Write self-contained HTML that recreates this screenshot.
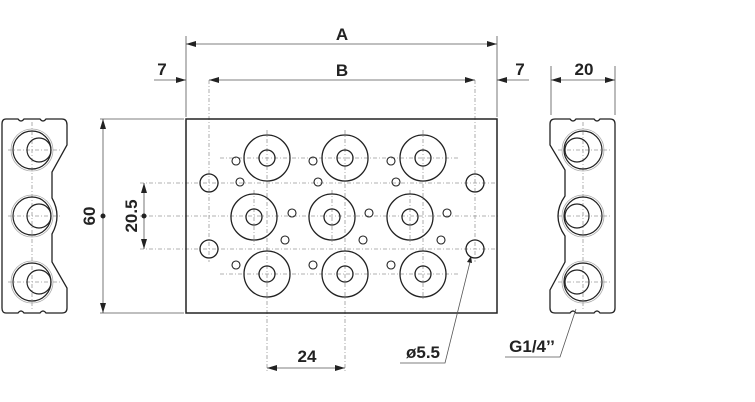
<!DOCTYPE html>
<html><head><meta charset="utf-8"><style>
html,body{margin:0;padding:0;background:#fff;}
svg{display:block}
text{font-family:"Liberation Sans",Arial,sans-serif;font-weight:bold;fill:#222;}
</style></head><body>
<svg width="755" height="402" viewBox="0 0 755 402" xmlns="http://www.w3.org/2000/svg">
<defs>
<marker id="ar" viewBox="0 0 10 6" refX="10" refY="3" markerWidth="10" markerHeight="6" orient="auto-start-reverse" markerUnits="userSpaceOnUse"><path d="M0,0 L10,3 L0,6 z" fill="#222"/></marker>
</defs>
<g stroke="#999" stroke-width="0.8" stroke-dasharray="4,2,1,2" fill="none">
<!-- main centerlines -->
<line x1="140" y1="183" x2="497" y2="183"/>
<line x1="140" y1="249" x2="497" y2="249"/>
<line x1="140" y1="216" x2="500" y2="216"/>
<line x1="209" y1="80" x2="209" y2="262"/>
<line x1="475" y1="80" x2="475" y2="262"/>
<line x1="267" y1="130" x2="267" y2="372"/>
<line x1="345" y1="130" x2="345" y2="372"/>
<line x1="423" y1="130" x2="423" y2="300"/>
<line x1="254" y1="190" x2="254" y2="245"/>
<line x1="332" y1="190" x2="332" y2="245"/>
<line x1="410" y1="190" x2="410" y2="245"/>
<line x1="220" y1="158" x2="460" y2="158"/>
<line x1="220" y1="274" x2="460" y2="274"/>
<!-- side views -->
<line x1="8" y1="150" x2="62" y2="150"/><line x1="8" y1="216" x2="62" y2="216"/><line x1="8" y1="282" x2="62" y2="282"/>
<line x1="32" y1="122" x2="32" y2="310"/>
<line x1="558" y1="150" x2="610" y2="150"/><line x1="558" y1="216" x2="610" y2="216"/><line x1="558" y1="282" x2="610" y2="282"/>
<line x1="583" y1="122" x2="583" y2="310"/>
</g>
<!-- main plate -->
<rect x="186" y="119" width="311" height="194" fill="none" stroke="#222" stroke-width="1.5"/>
<g fill="none" stroke="#222" stroke-width="1.3">
<circle cx="267" cy="158" r="23"/><circle cx="345" cy="158" r="23"/><circle cx="423" cy="158" r="23"/>
<circle cx="267" cy="158" r="8"/><circle cx="345" cy="158" r="8"/><circle cx="423" cy="158" r="8"/>
<circle cx="254" cy="217" r="23"/><circle cx="332" cy="217" r="23"/><circle cx="410" cy="217" r="23"/>
<circle cx="254" cy="217" r="8"/><circle cx="332" cy="217" r="8"/><circle cx="410" cy="217" r="8"/>
<circle cx="267" cy="274" r="23"/><circle cx="345" cy="274" r="23"/><circle cx="423" cy="274" r="23"/>
<circle cx="267" cy="274" r="8"/><circle cx="345" cy="274" r="8"/><circle cx="423" cy="274" r="8"/>
<circle cx="209" cy="183" r="9"/><circle cx="209" cy="249" r="9"/><circle cx="475" cy="183" r="9"/><circle cx="475" cy="249" r="9"/>
</g>
<g fill="none" stroke="#222" stroke-width="1.1">
<circle cx="236" cy="161" r="4"/><circle cx="313" cy="161" r="4"/><circle cx="391" cy="161" r="4"/>
<circle cx="240" cy="182" r="4"/><circle cx="318" cy="182" r="4"/><circle cx="396" cy="182" r="4"/>
<circle cx="292" cy="213" r="4"/><circle cx="369" cy="213" r="4"/><circle cx="447" cy="213" r="4"/>
<circle cx="285" cy="240" r="4"/><circle cx="363" cy="240" r="4"/><circle cx="441" cy="240" r="4"/>
<circle cx="236" cy="265" r="4"/><circle cx="313" cy="265" r="4"/><circle cx="391" cy="265" r="4"/>
</g>
<!-- left end view -->
<path d="M6,119 L18,119 Q21,123 24,119 L40,119 Q43,123 46,119 L62,119 Q67,119 67,125 L67,145 L52,172 L52,198 Q62,216 52,234 L52,262 L67,288 L67,308 Q67,313 62,313 L46,313 Q43,309 40,313 L24,313 Q21,309 18,313 L6,313 Q2,313 2,308 L2,124 Q2,119 6,119 Z" fill="none" stroke="#222" stroke-width="1.3"/>
<g fill="none">
<circle cx="32" cy="150" r="21" stroke="#aaa" stroke-width="0.8"/><circle cx="32" cy="150" r="19" stroke="#222" stroke-width="1.2"/><circle cx="39" cy="150" r="12" stroke="#222" stroke-width="1.2"/>
<circle cx="32" cy="216" r="21" stroke="#aaa" stroke-width="0.8"/><circle cx="32" cy="216" r="19" stroke="#222" stroke-width="1.2"/><circle cx="39" cy="216" r="12" stroke="#222" stroke-width="1.2"/>
<circle cx="32" cy="282" r="21" stroke="#aaa" stroke-width="0.8"/><circle cx="32" cy="282" r="19" stroke="#222" stroke-width="1.2"/><circle cx="39" cy="282" r="12" stroke="#222" stroke-width="1.2"/>
</g>
<!-- right end view -->
<path d="M555,119 L570,119 Q573,123 576,119 L594,119 Q597,123 600,119 L610,119 Q615,119 615,124 L615,308 Q615,313 610,313 L600,313 Q597,309 594,313 L576,313 Q573,309 570,313 L555,313 Q550,313 550,308 L550,290 L565,262 L565,236 Q551,216 565,196 L565,170 L550,145 L550,124 Q550,119 555,119 Z" fill="none" stroke="#222" stroke-width="1.3"/>
<g fill="none">
<circle cx="583" cy="150" r="21" stroke="#aaa" stroke-width="0.8"/><circle cx="583" cy="150" r="19" stroke="#222" stroke-width="1.2"/><circle cx="577" cy="150" r="12" stroke="#222" stroke-width="1.2"/>
<circle cx="583" cy="216" r="21" stroke="#aaa" stroke-width="0.8"/><circle cx="583" cy="216" r="19" stroke="#222" stroke-width="1.2"/><circle cx="577" cy="216" r="12" stroke="#222" stroke-width="1.2"/>
<circle cx="583" cy="282" r="21" stroke="#aaa" stroke-width="0.8"/><circle cx="583" cy="282" r="19" stroke="#222" stroke-width="1.2"/><circle cx="577" cy="282" r="12" stroke="#222" stroke-width="1.2"/>
</g>
<!-- dimensions -->
<g stroke="#555" stroke-width="0.8" fill="none">
<line x1="186" y1="36" x2="186" y2="117"/><line x1="497" y1="36" x2="497" y2="117"/>
<line x1="186" y1="44" x2="497" y2="44" marker-start="url(#ar)" marker-end="url(#ar)"/>
<line x1="209" y1="80" x2="475" y2="80" marker-start="url(#ar)" marker-end="url(#ar)"/>
<line x1="154" y1="80" x2="186" y2="80" marker-end="url(#ar)"/>
<line x1="529" y1="80" x2="497" y2="80" marker-end="url(#ar)"/>
<line x1="551" y1="66" x2="551" y2="115"/><line x1="615" y1="66" x2="615" y2="115"/>
<line x1="551" y1="80" x2="615" y2="80" marker-start="url(#ar)" marker-end="url(#ar)"/>
<line x1="100" y1="119" x2="184" y2="119"/><line x1="100" y1="313" x2="184" y2="313"/>
<line x1="103" y1="119" x2="103" y2="313" marker-start="url(#ar)" marker-end="url(#ar)"/>
<line x1="144" y1="183" x2="144" y2="249" marker-start="url(#ar)" marker-end="url(#ar)"/>
<line x1="267" y1="368" x2="345" y2="368" marker-start="url(#ar)" marker-end="url(#ar)"/>
<polyline points="400,363 445,363 471,258"/>
<polyline points="505,357 560,357 576,309"/>
</g>
<circle cx="103" cy="216" r="2.5" fill="#222"/><circle cx="144" cy="216" r="2.5" fill="#222"/>
<path d="M467,262 L471,256 L472,263 z" fill="#222"/>
<text x="342" y="40" font-size="17" text-anchor="middle">A</text>
<text x="342" y="76" font-size="17" text-anchor="middle">B</text>
<text x="162" y="75" font-size="17" text-anchor="middle">7</text>
<text x="520" y="75" font-size="17" text-anchor="middle">7</text>
<text x="584" y="75" font-size="17" text-anchor="middle">20</text>
<text x="307" y="362" font-size="17" text-anchor="middle">24</text>
<text x="423" y="358" font-size="17" text-anchor="middle">ø5.5</text>
<text x="532" y="352" font-size="17" text-anchor="middle">G1/4’’</text>
<text transform="translate(95,216) rotate(-90)" font-size="17" text-anchor="middle">60</text>
<text transform="translate(137,216) rotate(-90)" font-size="17" text-anchor="middle">20.5</text>
</svg>
</body></html>
